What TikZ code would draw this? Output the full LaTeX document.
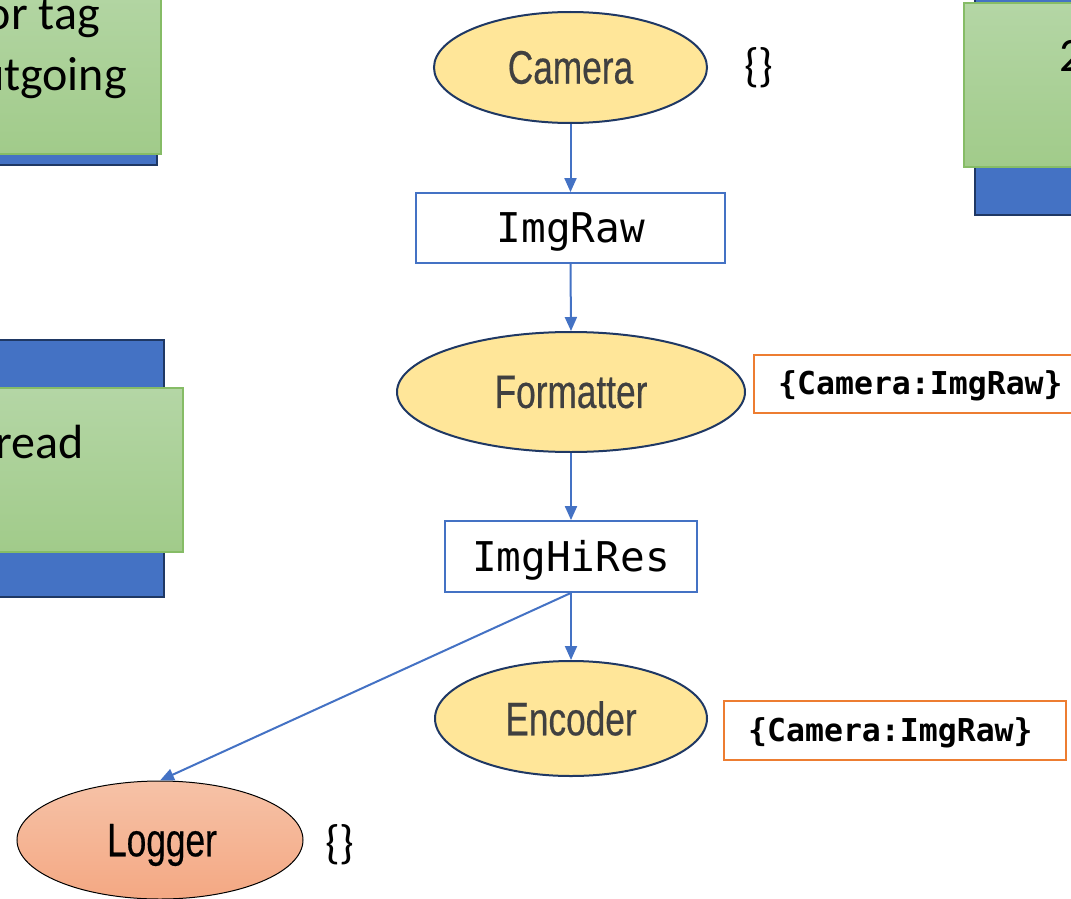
\documentclass[tikz,border=0pt]{standalone}
\usepackage{fontspec}
\setmainfont{Carlito}
\newfontfamily\condfont[FakeStretch=0.75,FakeBold=0.4]{Liberation Sans}
\newfontfamily\codefont{DejaVu Sans Mono}
\usetikzlibrary{shapes.geometric,arrows.meta}
\definecolor{arrowblue}{HTML}{4472C4}
\definecolor{navy}{HTML}{1F3864}
\definecolor{ellyellow}{HTML}{FFE699}
\definecolor{greentop}{HTML}{B4D6A5}
\definecolor{greenbot}{HTML}{A1CB8A}
\definecolor{greenedge}{HTML}{86BC66}
\definecolor{salmontop}{HTML}{F6C2A7}
\definecolor{salmonbot}{HTML}{F4A883}
\definecolor{orangeedge}{HTML}{ED7D31}
\definecolor{txtgray}{HTML}{404040}
\tikzset{
  bluepanel/.style={fill=arrowblue, draw=navy, line width=2pt},
  greenpanel/.style={top color=greentop, bottom color=greenbot, draw=greenedge, line width=1.2pt},
  task/.style={ellipse, fill=ellyellow, draw=navy, line width=2pt, inner sep=0pt,
    font=\condfont\fontsize{47}{56}\selectfont, text=txtgray},
  msgbox/.style={draw=arrowblue, line width=1.8pt, fill=white, inner sep=0pt},
  msgtext/.style={font=\codefont\fontsize{41}{49}\selectfont, inner sep=0pt},
  tagbox/.style={draw=orangeedge, line width=2.5pt, fill=white, inner sep=0pt},
  tagtext/.style={font=\codefont\bfseries\fontsize{31.5}{37}\selectfont, inner sep=0pt},
  bigtext/.style={font=\fontsize{48}{58}\selectfont, inner sep=0pt},
  brace/.style={font=\fontsize{47}{56}\selectfont, inner sep=0pt},
  flow/.style={draw=arrowblue, line width=2pt, -{Triangle[length=14pt,width=12pt]}}
}
\begin{document}
\begin{tikzpicture}[x=1pt,y=-1pt]
\useasboundingbox (0,0) rectangle (1071,899);
\clip (0,0) rectangle (1071,899);

% background panels
\draw[bluepanel] (-20,-20) rectangle (157,165);
\draw[greenpanel] (-20,-20) rectangle (161,154);
\node[bigtext, anchor=base east] (t1) at (100,30) {or tag};
\node[bigtext, anchor=base east] (t2) at (127,91) {utgoing};

\draw[bluepanel] (975,-20) rectangle (1100,215);
\draw[greenpanel] (964,3) rectangle (1100,167);
\node[bigtext, anchor=base west] (t3) at (1059,72) {2};

\draw[bluepanel] (-20,340) rectangle (164,597);
\draw[greenpanel] (-20,388) rectangle (183,552);
\node[bigtext, anchor=base east] (t4) at (84,458) {read};

% tasks and messages
\node[task, minimum width=273pt, minimum height=111pt] (cam) at (570.5,67.5) {Camera};
\node[msgbox, minimum width=309pt, minimum height=70pt] (raw) at (570.5,228) {};
\node[msgtext] (rawtxt) at (571,232) {ImgRaw};
\node[task, minimum width=348pt, minimum height=120pt] (fmt) at (571,392) {Formatter};
\node[msgbox, minimum width=252pt, minimum height=71pt] (hires) at (571,556.5) {};
\node[msgtext] (hirestxt) at (571,560) {ImgHiRes};
\node[task, minimum width=272pt, minimum height=115pt] (enc) at (571,718.5) {Encoder};
\node[ellipse, top color=salmontop, bottom color=salmonbot, draw=black, line width=1pt,
  inner sep=0pt, minimum width=286pt, minimum height=118pt] (log) at (160,840) {};
\node[inner sep=0pt, font=\condfont\fontsize{47}{56}\selectfont] (logtxt) at (162,845) {Logger};

% annotations
\node[brace] (b1) at (759,68) {\{\}};
\node[brace] (b2) at (340,845) {\{\}};
\draw[tagbox] (754,355) rectangle (1090,413);
\node[tagtext, anchor=west] (tag1) at (778,386) {\{Camera:ImgRaw\}};
\draw[tagbox] (724,701) rectangle (1066,760);
\node[tagtext, anchor=west] (tag2) at (748,732.5) {\{Camera:ImgRaw\}};

% connectors
\draw[flow] (cam.south) -- (raw.north);
\draw[flow] (raw.south) -- (fmt.north);
\draw[flow] (fmt.south) -- (hires.north);
\draw[flow] (hires.south) -- (enc.north);
\draw[flow] (hires.south) -- (log.north);
\end{tikzpicture}
\end{document}
